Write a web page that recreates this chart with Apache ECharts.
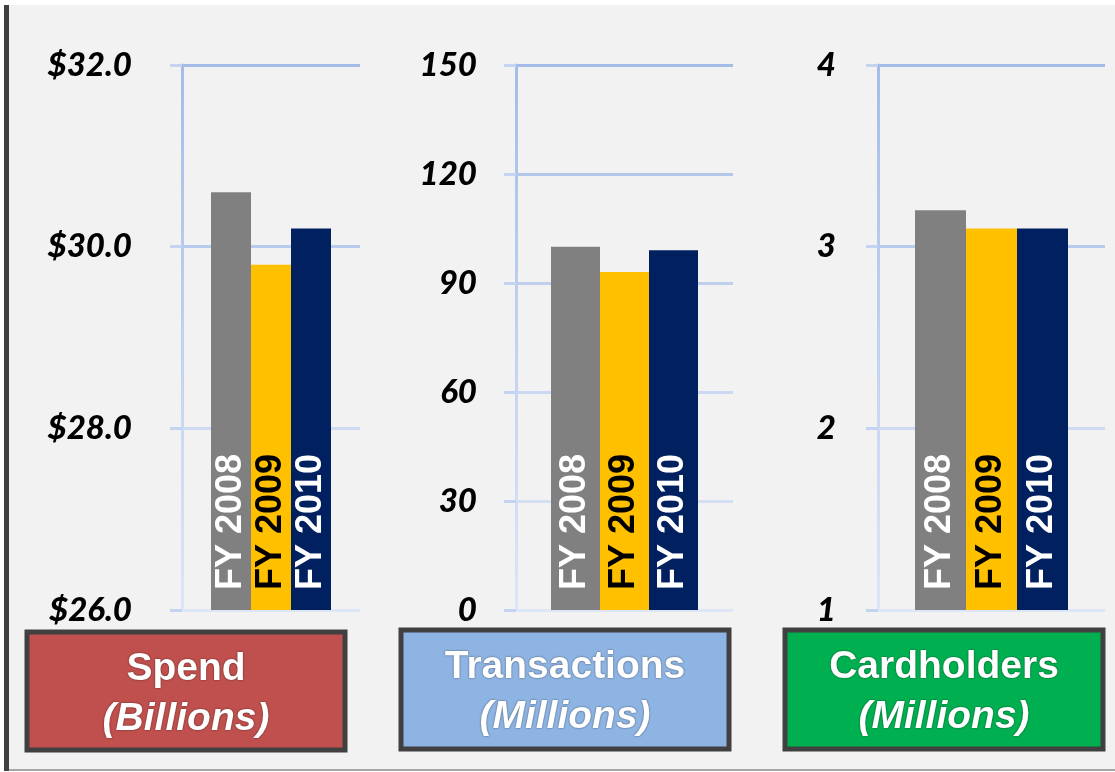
<!DOCTYPE html>
<html>
<head>
<meta charset="utf-8">
<script src="https://cdn.jsdelivr.net/npm/echarts@6/dist/echarts.min.js"></script>
<style>
html,body{margin:0;padding:0;background:#ffffff;}
#chart{width:1115px;height:772px;}
</style>
</head>
<body>
<div id="chart"></div>
<script>
const years = ['FY 2008', 'FY 2009', 'FY 2010'];
const panelTitles = ['Spend', 'Transactions', 'Cardholders'];
const panelUnits = ['(Billions)', '(Millions)', '(Millions)'];
const spend = [30.6, 29.8, 30.2];
const transactions = [100, 93, 99];
const cardholders = [3.2, 3.1, 3.1];
const spendTicks = [26, 28, 30, 32];
const transactionTicks = [0, 30, 60, 90, 120, 150];
const cardholderTicks = [1, 2, 3, 4];

const barColors = ['#808080', '#ffc000', '#002060'];
const labelColors = ['#ffffff', '#000000', '#ffffff'];
const boxColors = ['#c0504d', '#8eb4e3', '#00b050'];

const panelData = [spend, transactions, cardholders];
const panelTicks = [spendTicks, transactionTicks, cardholderTicks];
const gridLayout = [
  {left: 182, width: 178, margin: 50, barWidth: 40},
  {left: 516, width: 217, margin: 39, barWidth: 49},
  {left: 878, width: 227, margin: 42, barWidth: 51}
];
const boxLayout = [
  {x: 27, y: 632, w: 318, h: 118},
  {x: 401, y: 630, w: 328, h: 119},
  {x: 785, y: 630, w: 318, h: 119}
];
const splitColors4 = ['#dde6f6', '#cddaf2', '#b8caed', '#a5bce8'];
const splitColors6 = ['#dde6f6', '#d4dff4', '#cad8f1', '#bfcfee', '#b3c7eb', '#a5bce8'];
const fmt = [
  v => '$' + v.toFixed(1),
  v => String(v),
  v => String(v)
];

const chart = echarts.init(document.getElementById('chart'));

const grids = [], xAxes = [], yAxes = [], series = [];
panelData.forEach((vals, p) => {
  const g = gridLayout[p];
  const ticks = panelTicks[p];
  grids.push({left: g.left, top: 65, width: g.width, height: 545});
  xAxes.push({
    type: 'category', gridIndex: p, data: [panelTitles[p]],
    axisLine: {show: false}, axisTick: {show: false}, axisLabel: {show: false}
  });
  yAxes.push({
    type: 'value', gridIndex: p,
    min: ticks[0], max: ticks[ticks.length - 1],
    interval: ticks[1] - ticks[0],
    axisLine: {show: true, lineStyle: {width: 3,
      color: new echarts.graphic.LinearGradient(0, 0, 0, 1, [
        {offset: 0, color: '#a5bce8'}, {offset: 1, color: '#dde6f6'}])}},
    axisTick: {show: true, length: 12, inside: false, lineStyle: {width: 3, color: '#c4d3ef'}},
    splitLine: {show: true, lineStyle: {width: 3, color: ticks.length === 6 ? splitColors6 : splitColors4}},
    axisLabel: {
      margin: g.margin, formatter: fmt[p],
      fontFamily: 'Lato', fontStyle: 'italic', fontWeight: 900,
      fontSize: 33, color: '#000000'
    }
  });
  years.forEach((yr, i) => {
    series.push({
      type: 'bar', name: yr, xAxisIndex: p, yAxisIndex: p,
      data: [vals[i]], barWidth: g.barWidth, barGap: '0%',
      itemStyle: {color: barColors[i]},
      label: {
        show: true, formatter: yr, rotate: 90,
        position: 'insideBottom', align: 'left', verticalAlign: 'middle',
        distance: 20, color: labelColors[i],
        fontFamily: 'Liberation Sans', fontWeight: 'bold', fontSize: 36
      }
    });
  });
});

const graphics = [
  {type: 'rect', shape: {x: 0, y: 0, width: 1115, height: 5}, style: {fill: '#ffffff'}, z: -1},
  {type: 'rect', shape: {x: 0, y: 771, width: 1115, height: 1}, style: {fill: '#ffffff'}, z: -1},
  {type: 'rect', shape: {x: 0, y: 0, width: 4, height: 772}, style: {fill: '#ffffff'}, z: -1},
  {type: 'rect', shape: {x: 4, y: 5, width: 5, height: 766}, style: {fill: '#404040'}},
  {type: 'rect', shape: {x: 9, y: 769, width: 1106, height: 2}, style: {fill: '#a6a6a6'}}
];
boxLayout.forEach((b, p) => {
  const cx = b.x + b.w / 2;
  graphics.push({
    type: 'rect', shape: {x: b.x, y: b.y, width: b.w, height: b.h},
    style: {fill: boxColors[p], stroke: '#404040', lineWidth: 5}
  });
  graphics.push({
    type: 'text', x: cx, y: b.y + 37,
    style: {text: panelTitles[p], fill: '#ffffff', align: 'center', verticalAlign: 'middle',
      font: 'bold 39px "Liberation Sans"', textShadowColor: 'rgba(0,0,0,0.6)', textShadowBlur: 2}
  });
  graphics.push({
    type: 'text', x: cx, y: b.y + 87,
    style: {text: panelUnits[p], fill: '#ffffff', align: 'center', verticalAlign: 'middle',
      font: 'italic bold 39px "Liberation Sans"', textShadowColor: 'rgba(0,0,0,0.6)', textShadowBlur: 2}
  });
});

chart.setOption({
  backgroundColor: '#f2f2f2',
  animation: false,
  grid: grids, xAxis: xAxes, yAxis: yAxes, series: series,
  graphic: graphics
});
</script>
</body>
</html>
